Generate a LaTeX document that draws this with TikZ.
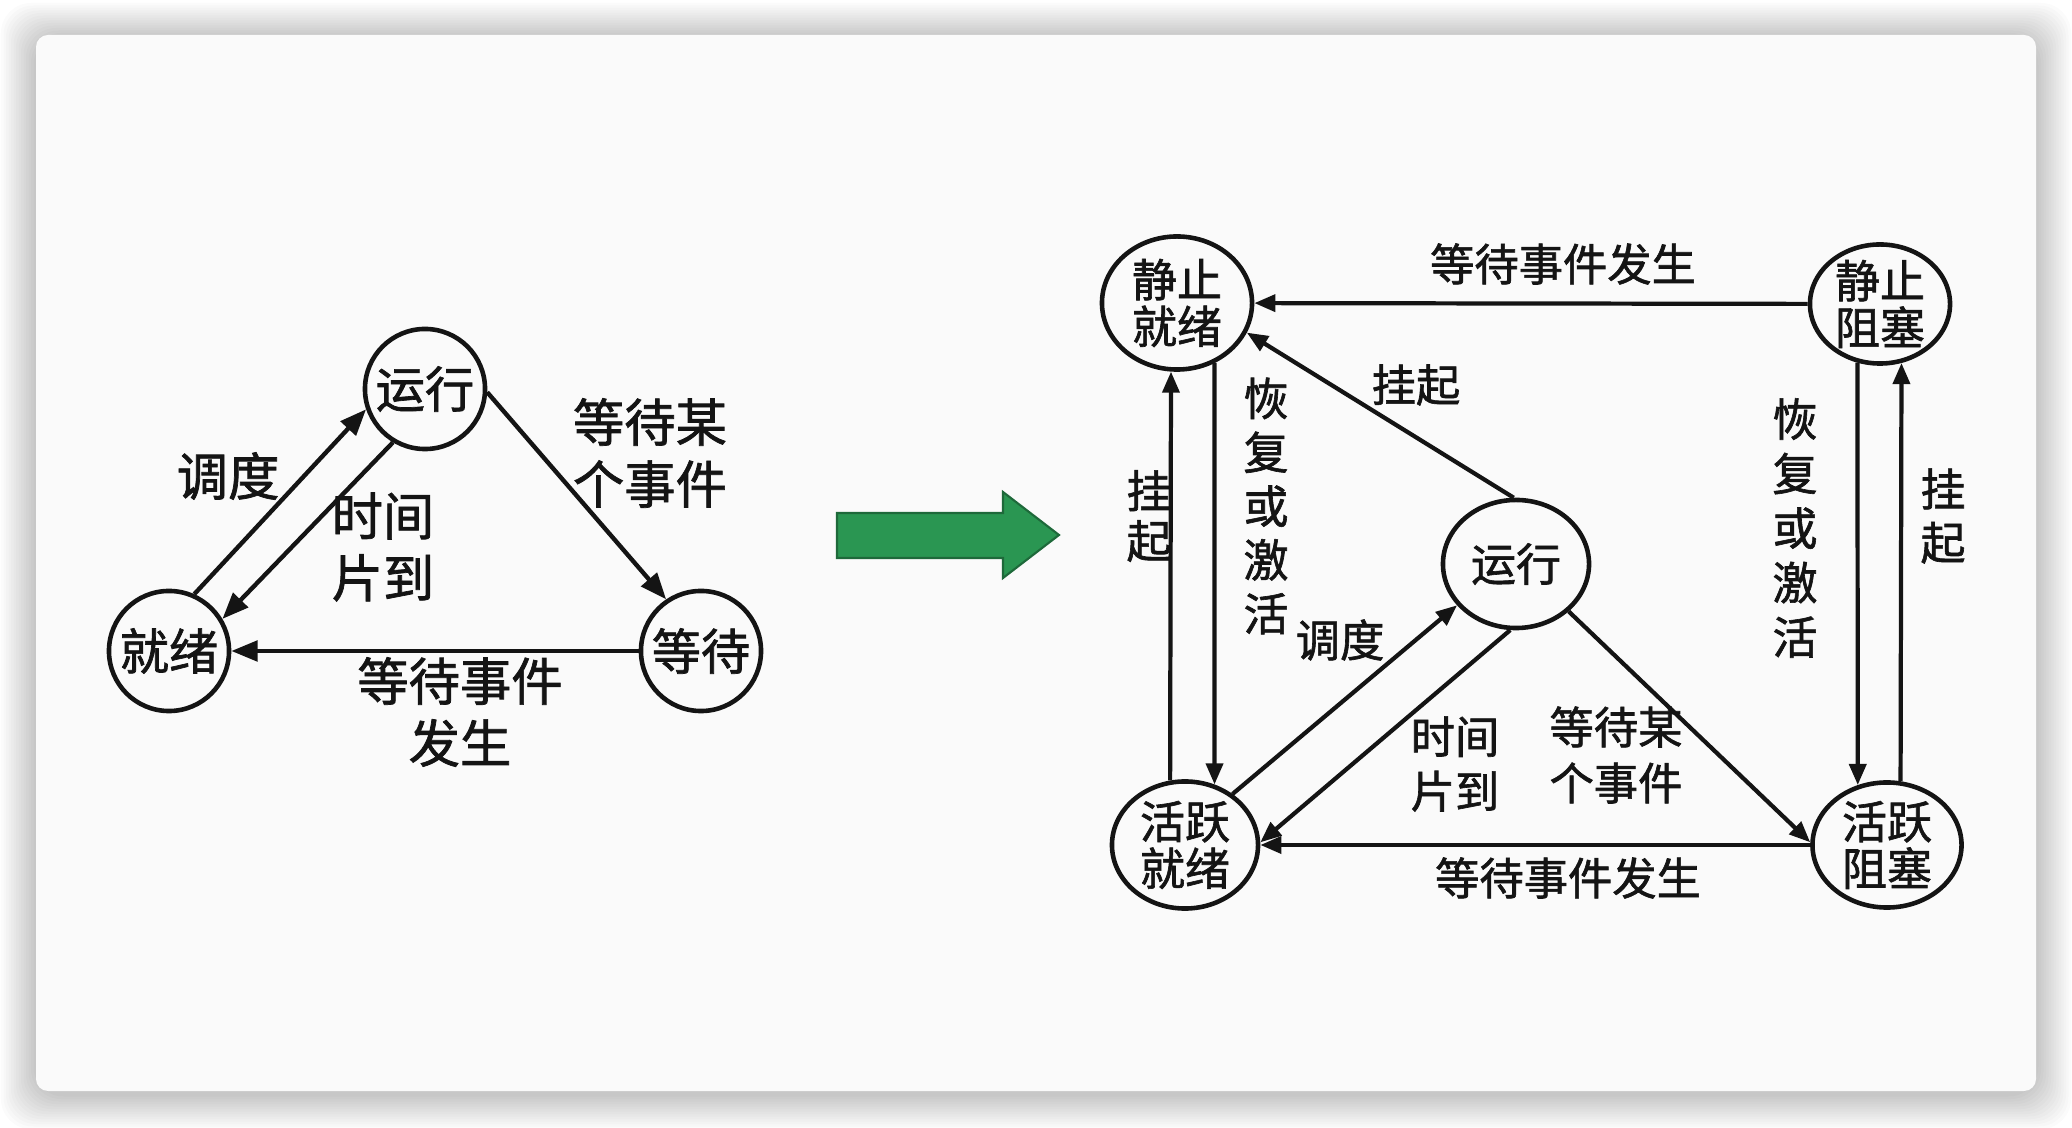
\documentclass[tikz,border=0pt]{standalone}
\usepackage{fontspec}
\newfontfamily\cjk{Noto Sans CJK SC}[BoldFont={Noto Sans CJK SC},BoldFeatures={FakeBold=1.4}]
\usetikzlibrary{arrows.meta,shapes.geometric}
\definecolor{cardbg}{RGB}{250,250,250}
\definecolor{arrowgreen}{RGB}{42,150,82}
\definecolor{arrowedge}{RGB}{30,105,58}
\definecolor{ink}{RGB}{20,20,20}

\begin{document}
\begin{tikzpicture}[x=0.01cm,y=-0.01cm,
   state/.style={circle,draw=ink,line width=1.3pt,minimum size=1.2cm,inner sep=0pt,
      text=ink,font={\cjk\bfseries\fontsize{14pt}{17pt}\selectfont}},
   estate/.style={ellipse,draw=ink,line width=1.3pt,minimum width=1.46cm,
      minimum height=1.27cm,inner sep=-2pt,align=center,text=ink,
      font={\cjk\bfseries\fontsize{12.8pt}{13.3pt}\selectfont}},
   bigtext/.style={align=center,inner sep=0pt,text=ink,
      font={\cjk\bfseries\fontsize{14.6pt}{17.6pt}\selectfont}},
   smalltext/.style={align=center,inner sep=0pt,text=ink,
      font={\cjk\bfseries\fontsize{12.6pt}{15.5pt}\selectfont}},
   vtext/.style={smalltext,font={\cjk\bfseries\fontsize{12.8pt}{#1}\selectfont}},
   arr/.style={draw=ink,line width=1.25pt,-{Triangle[length=7.5pt,width=5.8pt]}},
   sarr/.style={draw=ink,line width=1.2pt,-{Triangle[length=6pt,width=4.8pt]}}
]
   \useasboundingbox (0,0) rectangle (2072,1128);
   \fill[white] (0,0) rectangle (2072,1128);

   % card and its shadow
   \foreach \i in {1,...,14} {
      \fill[black,opacity=0.016,rounded corners=0.3cm]
         (36-2.5*\i,35-2.5*\i+3) rectangle (2036+2.5*\i,1091+2.5*\i+3);
   }
   \fill[cardbg,rounded corners=0.12cm] (36,35) rectangle (2036,1091);

   % three states
   \node[state] (run) at (425,389) {运行};
   \node[state] (ready) at (169,651) {就绪};
   \node[state] (wait) at (701,651) {等待};

   \draw[arr] (ready.66) -- (run.199);
   \draw[arr] (run.239) -- (ready.31);
   \draw[arr] (run.-3) -- (wait.124);
   \draw[arr] (wait) -- (ready);

   \node[bigtext] (sched) at (228,476) {调度};
   \node[bigtext] (slice) at (383,547) {时间\\片到};
   \node[bigtext] (waitev) at (650,453) {等待某\\个事件};
   \node[bigtext] (evdone) at (460,712) {等待事件\\发生};

   \draw[fill=arrowgreen,draw=arrowedge,line width=0.6pt] (837,513) -- (1003,513)
      -- (1003,492) -- (1059,535) -- (1003,578) -- (1003,558) -- (837,558) -- cycle;

   % five states
   \node[estate,minimum width=1.50cm,minimum height=1.33cm] (sready) at (1177,303) {静止\\就绪};
   \node[estate,minimum width=1.40cm,minimum height=1.19cm] (sblock) at (1880,304) {静止\\阻塞};
   \node[estate] (aready) at (1185,845) {活跃\\就绪};
   \node[estate,minimum width=1.49cm,minimum height=1.25cm] (ablock) at (1887,845) {活跃\\阻塞};
   \node[estate,minimum height=1.28cm] (run2) at (1516,564) {运行};

   \draw[sarr] (sblock) -- (sready);
   \draw[sarr] (run2.92) -- (sready.-23);
   \draw[sarr] (aready.103) -- (sready.265);
   \draw[sarr] (sready.-58) -- (aready.64);
   \draw[sarr] (sblock.249) -- (ablock.116);
   \draw[sarr] (ablock.78) -- (sblock.-70);
   \draw[sarr] (aready.47) -- (run2.215);
   \draw[sarr] (run2.265) -- (aready.2);
   \draw[sarr] (run2.-42) -- (ablock.178);
   \draw[sarr] (ablock) -- (aready);

   \node[smalltext] (topev) at (1563,264) {等待事件发生};
   \node[smalltext] (susp) at (1416,385) {挂起};
   \node[vtext=14.2pt] (suspl) at (1149,516) {挂\\起};
   \node[vtext=15.3pt] (resl) at (1266,506) {恢\\复\\或\\激\\活};
   \node[vtext=15.5pt] (resr) at (1795,528) {恢\\复\\或\\激\\活};
   \node[vtext=15.2pt] (suspr) at (1943,516) {挂\\起};
   \node[smalltext] (sched2) at (1340,640) {调度};
   \node[smalltext] (slice2) at (1455,764) {时间\\片到};
   \node[smalltext,font={\cjk\bfseries\fontsize{12.6pt}{15.9pt}\selectfont}] (waitev2) at (1616,755) {等待某\\个事件};
   \node[smalltext] (botev) at (1568,878) {等待事件发生};
\end{tikzpicture}
\end{document}
